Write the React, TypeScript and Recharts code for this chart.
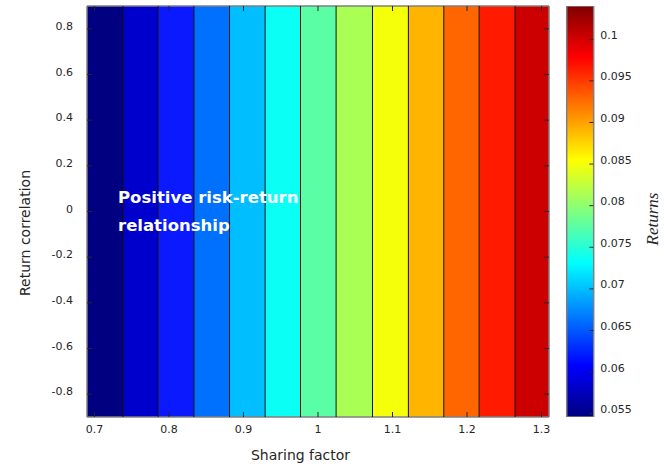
import React from 'react';
import { ComposedChart, XAxis, YAxis, ReferenceArea, Scatter, Bar } from 'recharts';

// ---- data ----
const xBoundaries = [0.69, 0.7383, 0.7856, 0.8335, 0.8813, 0.9291, 0.9765, 1.0243, 1.0731, 1.1213, 1.1688, 1.2162, 1.2645, 1.31];
const bandColors = ['#000080', '#0000CD', '#0A19FF', '#0070FF', '#00BEFF', '#0AFFF5', '#5AFFA5', '#AAFF55', '#F5FF0A', '#FFB400', '#FF6600', '#FF1A00', '#CC0000'];
const xTicks = [0.7, 0.8, 0.9, 1.0, 1.1, 1.2, 1.3];
const yTicks = [-0.8, -0.6, -0.4, -0.2, 0, 0.2, 0.4, 0.6, 0.8];
const cbTicks = [0.055, 0.06, 0.065, 0.07, 0.075, 0.08, 0.085, 0.09, 0.095, 0.1];
const xDomain = [0.69, 1.31];
const yDomain = [-0.9, 0.9];
const cbDomain = [0.0546, 0.104];
const colorbarData = [{ name: 'Returns', range: [0.0546, 0.104] }];

const FONT = '"DejaVu Sans", Verdana, sans-serif';
const TICK_COLOR = '#262626';
const AXIS_COLOR = '#7f7f7f';

const fmt = (v: number) => {
  if (Math.abs(v) < 1e-9) return '0';
  return String(parseFloat(v.toFixed(3)));
};

const LeftTick = (props: any) => {
  const { x, y, payload } = props;
  return (
    <g>
      <line x1={x} x2={x + 5} y1={y} y2={y} stroke={TICK_COLOR} strokeWidth={1} />
      <text x={x - 14} y={y - 2.5} textAnchor="end" dominantBaseline="central" fontFamily={FONT} fontSize={11} fill={TICK_COLOR}>
        {fmt(payload.value)}
      </text>
    </g>
  );
};
const RightTick = (props: any) => {
  const { x, y } = props;
  return <line x1={x} x2={x - 5} y1={y} y2={y} stroke={TICK_COLOR} strokeWidth={1} />;
};
const BottomTick = (props: any) => {
  const { x, y, payload } = props;
  return (
    <g>
      <line x1={x} x2={x} y1={y} y2={y - 5} stroke={TICK_COLOR} strokeWidth={1} />
      <text x={x} y={y + 12.6} textAnchor="middle" dominantBaseline="central" fontFamily={FONT} fontSize={11} fill={TICK_COLOR}>
        {fmt(payload.value)}
      </text>
    </g>
  );
};
const TopTick = (props: any) => {
  const { x, y } = props;
  return <line x1={x} x2={x} y1={y} y2={y + 5} stroke={TICK_COLOR} strokeWidth={1} />;
};
const CbTick = (props: any) => {
  const { x, y, payload } = props;
  return (
    <g>
      <line x1={x} x2={x - 4} y1={y} y2={y} stroke={TICK_COLOR} strokeWidth={1} />
      <text x={x + 7} y={y - 4} textAnchor="start" dominantBaseline="central" fontFamily={FONT} fontSize={11} fill={TICK_COLOR}>
        {fmt(payload.value)}
      </text>
    </g>
  );
};

const noShape = () => <g />;

export default function App() {
  const contourLines = xBoundaries.slice(1, -1).map((b) => [
    { x: b, y: yDomain[0] },
    { x: b, y: yDomain[1] },
  ]);
  const axisLine = { stroke: AXIS_COLOR, strokeWidth: 1.5 };
  return (
    <div style={{ position: 'absolute', left: 0, top: 0, width: 664, height: 467, background: '#fff' }}>
      <div style={{ position: 'absolute', left: 0, top: 0 }}>
        <ComposedChart width={664} height={467} margin={{ top: 0, right: 105, bottom: 20, left: 27 }}>
          <XAxis xAxisId="b" type="number" dataKey="x" domain={xDomain} ticks={xTicks} orientation="bottom" height={30}
            tickSize={0} tickMargin={0} interval={0} tick={BottomTick} tickLine={false} axisLine={axisLine} allowDataOverflow />
          <XAxis xAxisId="t" type="number" dataKey="x" domain={xDomain} ticks={xTicks} orientation="top" height={6}
            tickSize={0} tickMargin={0} interval={0} tick={TopTick} tickLine={false} axisLine={axisLine} allowDataOverflow />
          <YAxis yAxisId="l" type="number" dataKey="y" domain={yDomain} ticks={yTicks} orientation="left" width={60}
            tickSize={0} tickMargin={0} interval={0} tick={LeftTick} tickLine={false} axisLine={axisLine} allowDataOverflow />
          <YAxis yAxisId="r" type="number" dataKey="y" domain={yDomain} ticks={yTicks} orientation="right" width={10}
            tickSize={0} tickMargin={0} interval={0} tick={RightTick} tickLine={false} axisLine={axisLine} allowDataOverflow />
          {bandColors.map((c, i) => (
            <ReferenceArea key={'band' + i} xAxisId="b" yAxisId="l" x1={xBoundaries[i]} x2={xBoundaries[i + 1]}
              y1={yDomain[0]} y2={yDomain[1]} fill={c} fillOpacity={1} stroke="none" />
          ))}
          {contourLines.map((d, i) => (
            <Scatter key={'cl' + i} xAxisId="b" yAxisId="l" data={d} dataKey="y" line={{ stroke: '#111', strokeWidth: 1 }}
              shape={noShape} isAnimationActive={false} />
          ))}
        </ComposedChart>
      </div>
      <div style={{ position: 'absolute', left: 0, top: 0 }}>
        <ComposedChart width={664} height={467} data={colorbarData} margin={{ top: 6, right: 60.7, bottom: 50, left: 566.7 }}
          barCategoryGap={0}>
          <defs>
            <linearGradient id="jet" x1="0" y1="0" x2="0" y2="1">
              <stop offset="0%" stopColor="#800000" />
              <stop offset="12.5%" stopColor="#FF0000" />
              <stop offset="37.5%" stopColor="#FFFF00" />
              <stop offset="62.5%" stopColor="#00FFFF" />
              <stop offset="87.5%" stopColor="#0000FF" />
              <stop offset="100%" stopColor="#000080" />
            </linearGradient>
          </defs>
          <XAxis type="category" dataKey="name" hide />
          <YAxis type="number" domain={cbDomain} ticks={cbTicks} orientation="right" width={10} tickSize={0} tickMargin={0}
            interval={0} tick={CbTick} tickLine={false} axisLine={false} allowDataOverflow />
          <Bar dataKey="range" fill="url(#jet)" stroke={AXIS_COLOR} strokeWidth={1.5} isAnimationActive={false} />
        </ComposedChart>
      </div>
      <svg width={664} height={467} style={{ position: 'absolute', left: 0, top: 0, pointerEvents: 'none' }}>
        <text x={25} y={233} transform="rotate(-90 25 233)" textAnchor="middle" dominantBaseline="central"
          fontFamily={FONT} fontSize={14} fill={TICK_COLOR}>Return correlation</text>
        <text x={300.5} y={455} textAnchor="middle" dominantBaseline="central" fontFamily={FONT} fontSize={14} fill={TICK_COLOR}>
          Sharing factor
        </text>
        <text x={652} y={219} transform="rotate(-90 652 219)" textAnchor="middle" dominantBaseline="central"
          fontFamily='"Liberation Serif", "Times New Roman", serif' fontStyle="italic" fontSize={17} fill={TICK_COLOR}>Returns</text>
        <text x={118} y={203} fontFamily={FONT} fontWeight="bold" fontSize={16.5} fill="#ffffff">Positive risk-return</text>
        <text x={118} y={231} fontFamily={FONT} fontWeight="bold" fontSize={16.5} fill="#ffffff">relationship</text>
      </svg>
    </div>
  );
}
